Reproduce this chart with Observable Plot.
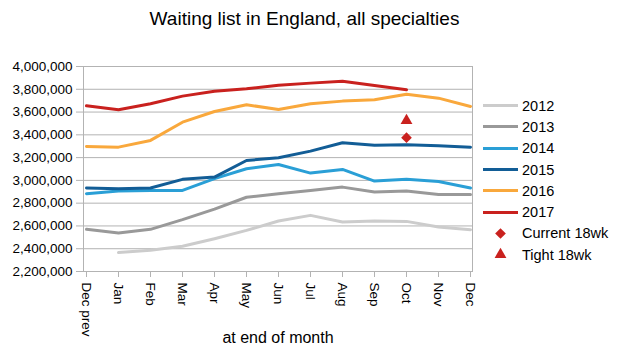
<!DOCTYPE html>
<html>
<head>
<meta charset="utf-8">
<script src="https://cdn.jsdelivr.net/npm/d3@7"></script>
<script src="https://cdn.jsdelivr.net/npm/@observablehq/plot@0.6"></script>
<style>
  html, body { margin: 0; padding: 0; background: #fff; }
  #wrap { position: relative; width: 617px; height: 354px; font-family: "Liberation Sans", Arial, sans-serif; color: #000; overflow: hidden; }
  #title { position: absolute; left: 0; width: 609px; top: 8px; text-align: center; font-size: 19px; line-height: 22px; }
  #xlabel { position: absolute; left: 178px; width: 200px; top: 329px; text-align: center; font-size: 16px; line-height: 18px; }
  #legend { position: absolute; left: 482px; top: 95px; font-size: 14.5px; }
  .row { height: 21.3px; display: flex; align-items: center; white-space: nowrap; }
  .row svg { width: 40px; height: 21px; flex: none; }
  #chart { position: absolute; left: 0; top: 0; }
</style>
</head>
<body>
<div id="wrap">
  <div id="chart"></div>
  <div id="title">Waiting list in England, all specialties</div>
  <div id="xlabel">at end of month</div>
  <div id="legend"></div>
</div>
<script>
const months = ["Dec prev","Jan","Feb","Mar","Apr","May","Jun","Jul","Aug","Sep","Oct","Nov","Dec"];
const yTicks = [2200000,2400000,2600000,2800000,3000000,3200000,3400000,3600000,3800000,4000000];
const years = ["2012","2013","2014","2015","2016","2017"];
const colors = ["#cccccc","#999999","#2a9fd6","#125d96","#f9a83c","#c9211e"];

const y2012 = [null,2366000,2386000,2421000,2488000,2561000,2643000,2693000,2635000,2643000,2640000,2590000,2567000];
const y2013 = [2570000,2538000,2570000,2655000,2748000,2852000,2883000,2912000,2941000,2898000,2906000,2877000,2877000];
const y2014 = [2883000,2906000,2912000,2912000,3015000,3102000,3140000,3064000,3096000,2994000,3011000,2991000,2933000];
const y2015 = [2933000,2927000,2933000,3009000,3029000,3175000,3199000,3257000,3331000,3308000,3313000,3304000,3292000];
const y2016 = [3298000,3292000,3351000,3511000,3605000,3664000,3623000,3673000,3696000,3708000,3757000,3722000,3649000];
const y2017 = [3655000,3620000,3673000,3740000,3783000,3804000,3836000,3854000,3871000,3833000,3796000,null,null];

const markerLabels = ["Current 18wk","Tight 18wk"];
const markerMonth = ["Oct","Oct"];
const markerValues = [3375000, 3526000];
const markerColor = "#c9211e";

const series = [y2012,y2013,y2014,y2015,y2016,y2017];
const rows = [];
series.forEach((vals, i) => vals.forEach((v, j) => { if (v != null) rows.push({year: years[i], month: months[j], value: v}); }));
const markers = markerLabels.map((l, i) => ({label: l, month: markerMonth[i], value: markerValues[i]}));

const fmt = d3.format(",");

const plot = Plot.plot({
  width: 617,
  height: 354,
  marginLeft: 83,
  marginRight: 145,
  marginTop: 66,
  marginBottom: 83,
  style: {fontFamily: "'Liberation Sans', Arial, sans-serif", fontSize: "13.5px", color: "#000", background: "transparent"},
  x: {type: "point", domain: months, padding: 0},
  y: {domain: [2200000, 4000000]},
  color: {domain: years, range: colors},
  marks: [
    Plot.gridY(yTicks, {stroke: "#b3b3b3", strokeOpacity: 1}),
    Plot.frame({stroke: "#b3b3b3"}),
    Plot.axisY(yTicks, {tickFormat: fmt, tickSize: 7, tickPadding: 4, stroke: "#b3b3b3", label: null}),
    Plot.axisX(months, {tickSize: 6, stroke: "#b3b3b3", label: null, tickFormat: () => ""}),
    Plot.text(months, {x: d => d, text: d => d, frameAnchor: "bottom", rotate: 90, textAnchor: "start", lineAnchor: "middle", dy: 11, fill: "#000", fontSize: 13.5}),
    Plot.line(rows, {x: "month", y: "value", z: "year", stroke: "year", strokeWidth: 3, curve: "linear"}),
    Plot.dot(markers.slice(0,1), {x: "month", y: "value", symbol: "diamond2", r: 4.8, fill: markerColor, stroke: null}),
    Plot.dot(markers.slice(1,2), {x: "month", y: "value", symbol: "triangle", r: 4.4, fill: markerColor, stroke: null})
  ]
});
document.getElementById("chart").appendChild(plot);

// legend
const legend = document.getElementById("legend");
years.forEach((yr, i) => {
  const r = document.createElement("div");
  r.className = "row";
  r.innerHTML = `<svg viewBox="0 0 40 21"><line x1="1" x2="36" y1="10.5" y2="10.5" stroke="${colors[i]}" stroke-width="3"/></svg><span>${yr}</span>`;
  legend.appendChild(r);
});
const sym = [d3.symbol(d3.symbolDiamond2, 73)(), d3.symbol(d3.symbolTriangle, 60)()];
markerLabels.forEach((l, i) => {
  const r = document.createElement("div");
  r.className = "row";
  r.innerHTML = `<svg viewBox="0 0 40 21"><path transform="translate(18.5,10.5)" d="${sym[i]}" fill="${markerColor}"/></svg><span>${l}</span>`;
  legend.appendChild(r);
});
</script>
</body>
</html>
